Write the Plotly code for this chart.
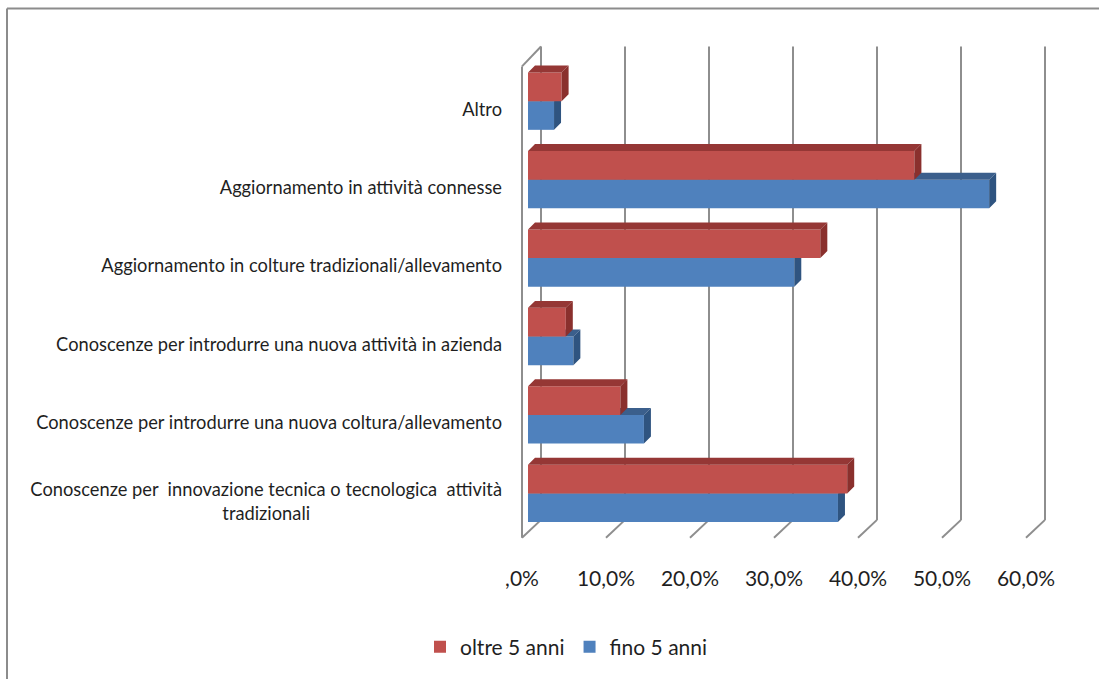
import plotly.graph_objects as go

categories = ["Conoscenze per  innovazione tecnica o tecnologica  attività<br>tradizionali" + "\u00a0" * 41,
              "Conoscenze per introdurre una nuova coltura/allevamento",
              "Conoscenze per introdurre una nuova attività in azienda",
              "Aggiornamento in colture tradizionali/allevamento",
              "Aggiornamento in attività connesse",
              "Altro"]
fino = [36.9, 13.8, 5.4, 31.7, 54.9, 3.1]
oltre = [38.0, 11.0, 4.5, 34.8, 46.0, 4.0]
x_ticks = [0, 10, 20, 30, 40, 50, 60]
x_labels = [",0%", "10,0%", "20,0%", "30,0%", "40,0%", "50,0%", "60,0%"]

FONT = "Lato"
TXT = "#1F1F1F"
GRID = "#8E8E8E"
W, H = 1099, 679
L, R, T, B = 515, 1060, 37.5, 549.2
PX_X = 8.4      # px per percent
PX_Y = 78.7     # px per category
X0_PX, Y0_PX = 528, 494.4
DX, DY = 7 / PX_X, 7 / PX_Y
BAR = 0.365

xr = [(L - X0_PX) / PX_X, (R - X0_PX) / PX_X]
yr = [(Y0_PX - B) / PX_Y, (Y0_PX - T) / PX_Y]
idx = list(range(len(categories)))


def faces(vals, lo):
    top_x, top_y, side_x, side_y = [], [], [], []
    for i, v in zip(idx, vals):
        y0, y1 = i + lo, i + lo + BAR
        top_x += [0, DX, v + DX, v, 0, None]
        top_y += [y1, y1 + DY, y1 + DY, y1, y1, None]
        side_x += [v, v + DX, v + DX, v, v, None]
        side_y += [y0, y0 + DY, y1 + DY, y1, y0, None]
    return top_x, top_y, side_x, side_y


def series(fig, name, vals, lo, col, top_col, side_col, xa, ya):
    fig.add_trace(go.Bar(name=name, y=idx, x=vals, orientation="h", width=BAR, offset=lo,
                         marker=dict(color=col, line=dict(width=0)), xaxis=xa, yaxis=ya))
    tx, ty, sx, sy = faces(vals, lo)
    for px, py, c in ((tx, ty, top_col), (sx, sy, side_col)):
        fig.add_trace(go.Scatter(x=px, y=py, mode="none", fill="toself", fillcolor=c,
                                 showlegend=False, hoverinfo="skip", xaxis=xa, yaxis=ya))


fig = go.Figure()
series(fig, "fino 5 anni", fino, -BAR, "#4F81BD", "#3B5F8C", "#2F5480", "x", "y")
series(fig, "oltre 5 anni", oltre, 0, "#C0504D", "#953735", "#8A302D", "x2", "y2")

# wall and floor lines (back wall offset +13 px, front edge -6 px from the bar origin)
back, front = 13 / PX_X, -6 / PX_X
y_wall_top = (Y0_PX - 46) / PX_Y
y_wall_bot = (Y0_PX - 521) / PX_Y
y_front_top = (Y0_PX - 66) / PX_Y
y_front_bot = (Y0_PX - 539) / PX_Y
shapes = []
def seg(x0, y0, x1, y1):
    shapes.append(dict(type="line", xref="x", yref="y", x0=x0, y0=y0, x1=x1, y1=y1,
                       layer="below", line=dict(color=GRID, width=2)))
for t in x_ticks:
    seg(t + back, y_wall_top, t + back, y_wall_bot)
    seg(t + back, y_wall_bot, t + front, y_front_bot)
seg(back, y_wall_top, front, y_front_top)
seg(front, y_front_top, front, y_front_bot)

# outer chart frame
def pxx(p): return (p - L) / (R - L)
def pxy(p): return (B - p) / (B - T)
for a, b, c, d in ((7, 8, 7, 690), (7, 8, 1110, 8)):
    shapes.append(dict(type="line", xref="paper", yref="paper", x0=pxx(a), y0=pxy(b),
                       x1=pxx(c), y1=pxy(d), layer="above", line=dict(color="#8C8C8C", width=2)))

fig.update_layout(
    width=W, height=H, autosize=False, showlegend=True,
    margin=dict(l=L, r=W - R, t=T, b=H - B, pad=0),
    paper_bgcolor="white", plot_bgcolor="white",
    font=dict(family=FONT, color=TXT, size=20),
    shapes=shapes,
    legend=dict(orientation="h", traceorder="reversed", x=pxx(420), y=pxy(627), xanchor="left",
                yanchor="top", font=dict(family=FONT, size=21, color=TXT), itemclick=False),
    xaxis=dict(range=xr, tickmode="array", tickvals=x_ticks, ticktext=x_labels, showgrid=False,
               zeroline=False, showline=False, ticks="", ticklabelshift=-6, ticklabelstandoff=16,
               tickfont=dict(family=FONT, size=21, color=TXT)),
    yaxis=dict(range=yr, tickmode="array", tickvals=idx, ticktext=categories, showgrid=False,
               zeroline=False, showline=False, ticks="", ticklabelshift=8, ticklabelstandoff=12,
               tickfont=dict(family=FONT, size=18.3, color=TXT)),
    xaxis2=dict(range=xr, overlaying="x", visible=False, matches="x"),
    yaxis2=dict(range=yr, overlaying="y", visible=False, matches="y"),
)
fig.write_html("out.html", config=dict(displayModeBar=False),
               post_script="document.body.style.margin='0';document.body.style.overflow='hidden';")
